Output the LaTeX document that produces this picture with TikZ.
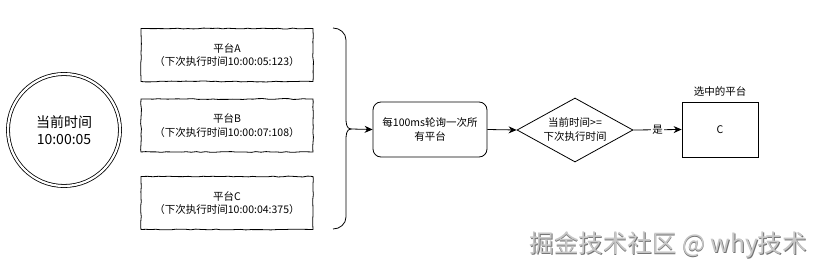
\documentclass[tikz,border=0pt]{standalone}
\usepackage{fontspec}
\setmainfont{Noto Sans CJK SC}
\usetikzlibrary{arrows.meta,shapes.geometric,decorations.pathmorphing}
\begin{document}
\begin{tikzpicture}[x=1pt,y=-1pt,
  sketch/.style={draw,line width=0.8pt,decorate,decoration={random steps,segment length=5pt,amplitude=0.45pt}},
  platbox/.style={sketch,minimum width=172pt,minimum height=53pt,align=center,font=\fontsize{10.5}{13.5}\selectfont,inner sep=2pt},
  arr/.style={-{Stealth[length=8pt,width=7pt]},line width=0.8pt},
  lbl/.style={font=\fontsize{10.5}{13}\selectfont}
]
\useasboundingbox (0,0) rectangle (825,273);
% clock circle
\node[circle,draw,double,double distance=2.2pt,line width=0.8pt,minimum size=112pt,align=center,font=\fontsize{14}{17}\selectfont] (clk) at (64,130) {当前时间\\10:00:05};
% platforms
\node[platbox] (pa) at (227,55) {平台A\\（下次执行时间10:00:05:123）};
\node[platbox] (pb) at (227,125.5) {平台B\\（下次执行时间10:00:07:108）};
\node[platbox] (pc) at (227,203) {平台C\\（下次执行时间10:00:04:375）};
% brace
\coordinate (bt) at (351,129);
\draw[line width=0.8pt] (333,28) to[out=0,in=90] (346,40) -- (346,118) to[out=-90,in=180] (bt)
  to[out=180,in=90] (346,140) -- (346,217) to[out=-90,in=0] (333,229);
% poll box
\node[draw,line width=0.8pt,rounded corners=8pt,minimum width=114pt,minimum height=55pt,align=center,font=\fontsize{10.5}{14}\selectfont,inner sep=2pt] (poll) at (430,129.5) {每100ms轮询一次所\\有平台};
% decision
\node[diamond,draw,line width=0.8pt,aspect=1.8,minimum width=116pt,minimum height=64pt,inner sep=0pt,align=center,font=\fontsize{10.5}{14}\selectfont] (dec) at (575,130) {当前时间>=\\下次执行时间};
% selected
\node[draw,line width=0.8pt,minimum width=76pt,minimum height=55pt,font=\fontsize{10.5}{13}\selectfont] (sel) at (720,129.5) {C};
\node[lbl,anchor=south] (seltitle) at (sel.north) [yshift=2pt] {选中的平台};
% connectors
\draw[arr] (bt) -- (poll.west);
\draw[arr] (poll.east) -- (dec.west);
\draw[arr] (dec.east) -- node[fill=white,inner sep=1pt,lbl] (yes) {是} (sel.west);
% watermark
\node[anchor=west,font=\fontsize{24.5}{28}\selectfont,text=black!55] (wm0) at (526.8,245.8) {掘金技术社区 @ why技术};
\node[anchor=west,font=\fontsize{24.5}{28}\selectfont,text=black!22] (wm) at (526,245) {掘金技术社区 @ why技术};
\end{tikzpicture}
\end{document}
